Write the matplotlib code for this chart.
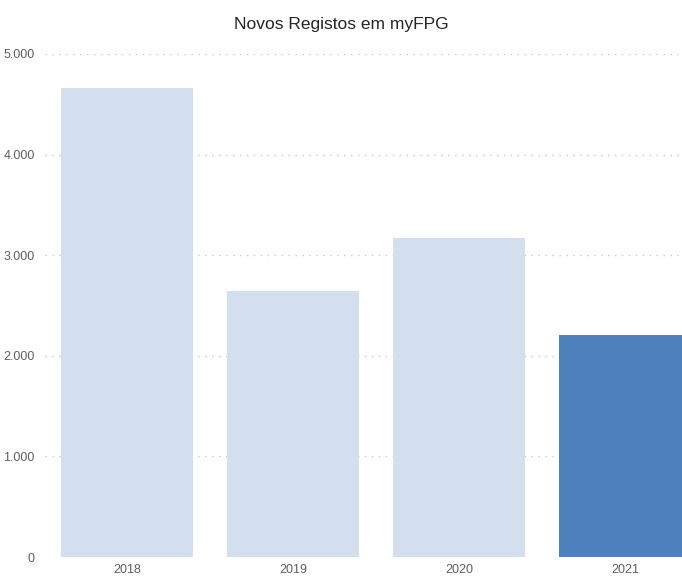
import matplotlib
matplotlib.use("Agg")
import matplotlib.pyplot as plt
from matplotlib.ticker import FuncFormatter

years = ["2018", "2019", "2020", "2021"]
registos = [4660, 2645, 3170, 2207]
highlight = "2021"

light = "#D3DEEE"
dark = "#4E80BD"
colors = [dark if y == highlight else light for y in years]

plt.rcParams['font.family'] = ['Liberation Sans', 'DejaVu Sans']

fig = plt.figure(figsize=(6.82, 5.78), dpi=100)
W, H = 682, 578
ax = fig.add_axes([45 / W, 21 / H, 1 - 45 / W, (557 - 54) / H])

xs = list(range(len(years)))
ax.bar(xs, registos, width=0.795, color=colors, zorder=2)

ax.set_xlim(-0.494, 3.343)
ax.set_ylim(0, 5000)
ax.set_yticks([0, 1000, 2000, 3000, 4000, 5000])
ax.yaxis.set_major_formatter(FuncFormatter(lambda v, p: f"{int(v):,}".replace(",", ".")))
ax.set_xticks(xs)
ax.set_xticklabels(years)

ax.grid(axis='y', color="#C8C8C8", linestyle=(0, (1, 4)), linewidth=1, zorder=1)
ax.set_axisbelow(True)
for s in ax.spines.values():
    s.set_visible(False)
ax.tick_params(length=0, labelsize=9, colors="#605E5C")
ax.tick_params(axis='y', pad=7.5)
ax.tick_params(axis='x', pad=5)

fig.text(0.5, 1 - 25 / H, "Novos Registos em myFPG", ha='center', va='center',
         fontsize=12.5, color="#252423")

fig.savefig("out.png", dpi=100)
